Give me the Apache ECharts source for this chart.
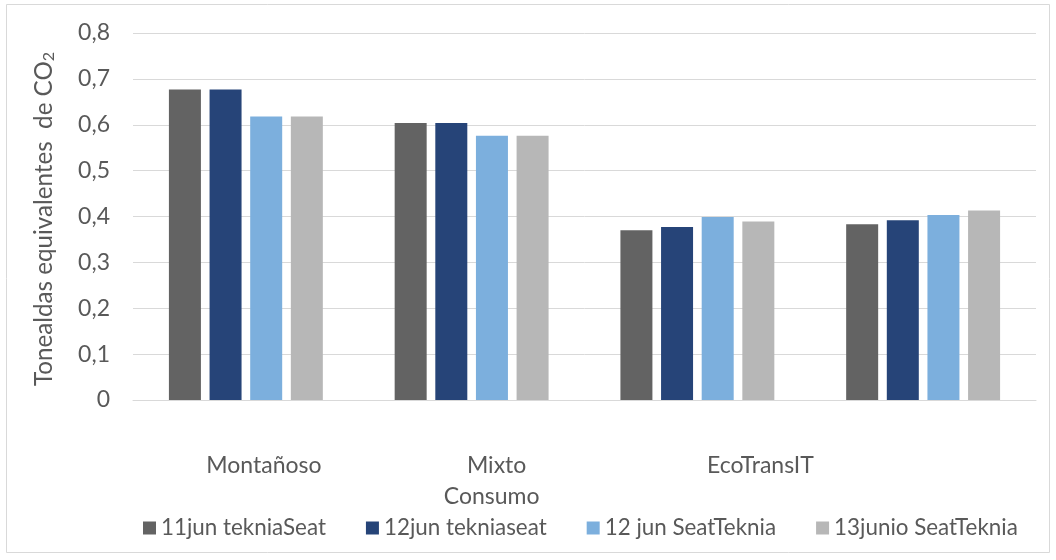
<!DOCTYPE html>
<html>
<head>
<meta charset="utf-8">
<script src="https://cdn.jsdelivr.net/npm/echarts@6/dist/echarts.min.js"></script>
<style>
  html, body { margin: 0; padding: 0; background: #ffffff; }
  #chart { width: 1056px; height: 560px; }
</style>
</head>
<body>
<div id="chart"></div>
<script>
// Emission estimates per route profile (tonnes CO2e)
const categories = ['Montañoso', 'Mixto\nConsumo', 'EcoTransIT', ''];
const seriesNames = ['11jun tekniaSeat', '12jun tekniaseat', '12 jun SeatTeknia', '13junio SeatTeknia'];
const values11jun = [0.677, 0.604, 0.370, 0.383];
const values12jun = [0.677, 0.604, 0.377, 0.392];
const values12junST = [0.618, 0.576, 0.399, 0.403];
const values13junio = [0.618, 0.576, 0.389, 0.413];
const yTicks = { min: 0, max: 0.8, step: 0.1 };

const seriesValues = [values11jun, values12jun, values12junST, values13junio];
const colors = ['#636363', '#264478', '#7cafdd', '#b7b7b7'];
const FONT = 'Lato';
const TEXT = '#595959';

// per-category label styles (horizontal shift of each label)
const labelRich = {
  c0: { fontFamily: FONT, fontSize: 23, color: TEXT, lineHeight: 31, padding: [0, 0, 0, 36] },
  c1a: { fontFamily: FONT, fontSize: 23, color: TEXT, lineHeight: 31, padding: [0, 0, 0, 50] },
  c1b: { fontFamily: FONT, fontSize: 23, color: TEXT, lineHeight: 31, padding: [0, 0, 0, 40] },
  c2: { fontFamily: FONT, fontSize: 23, color: TEXT, lineHeight: 31, padding: [0, 0, 0, 126] }
};

const chart = echarts.init(document.getElementById('chart'), null, { renderer: 'canvas' });

chart.setOption({
  backgroundColor: '#ffffff',
  animation: false,
  graphic: [{
    type: 'rect',
    shape: { x: 6.5, y: 4.5, width: 1043, height: 548 },
    style: { fill: 'none', stroke: '#d9d9d9', lineWidth: 1 },
    silent: true
  }],
  grid: { left: 133, right: 20, top: 33, bottom: 160, containLabel: false },
  legend: {
    data: seriesNames,
    left: 143,
    top: 517,
    padding: 0,
    itemWidth: 13,
    itemHeight: 13,
    itemGap: 40,
    icon: 'rect',
    textStyle: { fontFamily: FONT, fontSize: 22.4, color: TEXT }
  },
  xAxis: {
    type: 'category',
    data: categories,
    axisLine: { show: true, lineStyle: { color: '#d9d9d9', width: 1 } },
    axisTick: { show: false },
    axisLabel: {
      interval: 0,
      margin: 50,
      formatter: function (value, idx) {
        if (idx === 0) return '{c0|' + value + '}';
        if (idx === 1) {
          const parts = value.split('\n');
          return '{c1a|' + parts[0] + '}\n{c1b|' + parts[1] + '}';
        }
        if (idx === 2) return '{c2|' + value + '}';
        return value;
      },
      rich: labelRich
    }
  },
  yAxis: {
    type: 'value',
    min: yTicks.min,
    max: yTicks.max,
    interval: yTicks.step,
    name: 'Tonealdas equivalentes  de CO{sub|2}',
    nameLocation: 'middle',
    nameRotate: 90,
    nameGap: 76,
    nameTextStyle: {
      fontFamily: FONT, fontSize: 24.2, color: TEXT,
      padding: [0, 5, 0, 0],
      rich: {
        sub: { fontFamily: FONT, fontSize: 16, color: TEXT, verticalAlign: 'bottom', padding: [10, 0, 0, 0] }
      }
    },
    axisLine: { show: false },
    axisTick: { show: false },
    splitLine: { lineStyle: { color: '#d9d9d9', width: 1 } },
    axisLabel: {
      margin: 23,
      fontFamily: FONT, fontSize: 23, color: TEXT,
      formatter: function (v) { return String(Math.round(v * 10) / 10).replace('.', ','); }
    }
  },
  series: seriesNames.map(function (name, i) {
    return {
      name: name,
      type: 'bar',
      data: seriesValues[i],
      barWidth: 32,
      barGap: '27%',
      itemStyle: { color: colors[i] }
    };
  })
});
</script>
</body>
</html>
